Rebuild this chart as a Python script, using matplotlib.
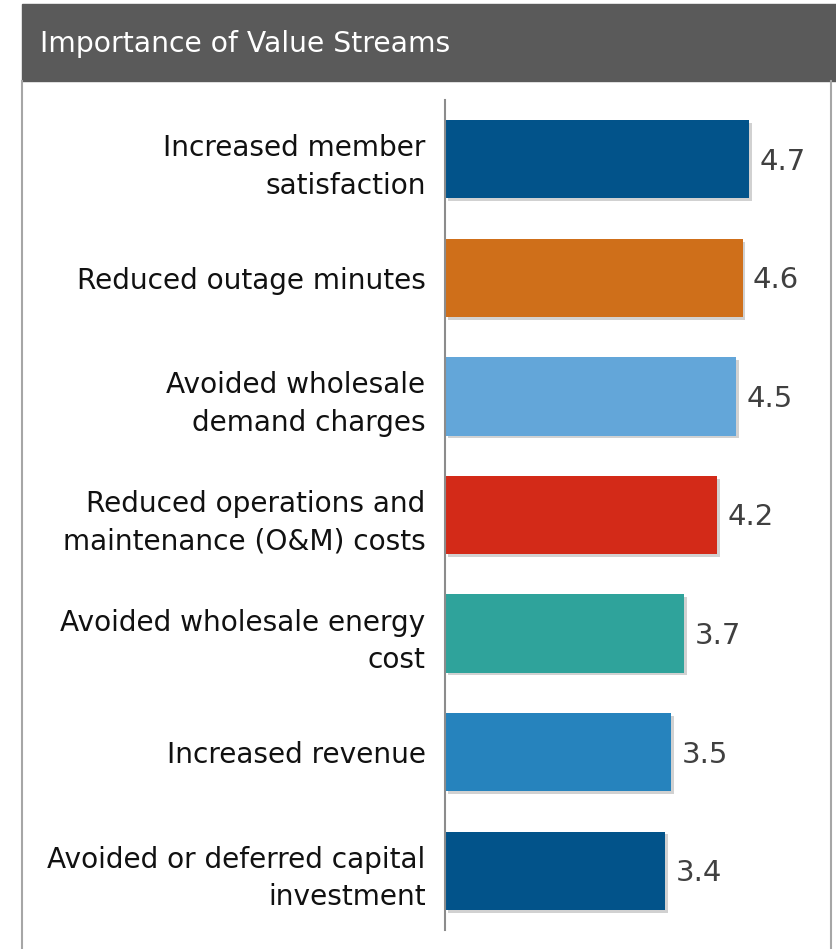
import matplotlib.pyplot as plt
import matplotlib.patheffects as pe
from matplotlib.patches import Rectangle
from matplotlib.lines import Line2D

# Survey results: average importance rating per value stream
categories = [
    "Increased member\nsatisfaction",
    "Reduced outage minutes",
    "Avoided wholesale\ndemand charges",
    "Reduced operations and\nmaintenance (O&M) costs",
    "Avoided wholesale energy\ncost",
    "Increased revenue",
    "Avoided or deferred capital\ninvestment",
]
scores = [4.7, 4.6, 4.5, 4.2, 3.7, 3.5, 3.4]
bar_colors = ["#02538A", "#CF6F1A", "#63A6D9", "#D32A18", "#2FA39B", "#2683BD", "#02538A"]
title = "Importance of Value Streams"

W, H = 836, 949
fig = plt.figure(figsize=(W / 100, H / 100), dpi=100)

# header band and panel border
fig.patches.append(Rectangle((22 / W, 1 - 81 / H), 1 - 22 / W, 77 / H,
                             transform=fig.transFigure, color="#5A5A5A", zorder=0))
fig.lines.append(Line2D([22 / W, 22 / W], [0, 1 - 81 / H], transform=fig.transFigure,
                        color="#A6A6A6", lw=1.5))
fig.lines.append(Line2D([831 / W, 831 / W], [0, 1 - 81 / H], transform=fig.transFigure,
                        color="#A6A6A6", lw=1.5))
fig.text(40 / W, 1 - 44 / H, title, color="white", fontsize=20.3, va="center", ha="left")

ax = fig.add_axes([445 / W, 1 - 930 / H, (830 - 445) / W, 830 / H])
ypos = list(range(len(categories)))
bars = ax.barh(ypos, scores, height=0.66, color=bar_colors, zorder=2)
for b in bars:
    b.set_path_effects([pe.SimplePatchShadow(offset=(2, -2), shadow_rgbFace="#000000", alpha=0.18),
                        pe.Normal()])

for y, v in zip(ypos, scores):
    ax.text(v + 0.16, y + 0.02, f"{v:.1f}", va="center", ha="left", fontsize=21, color="#404040")

ax.set_xlim(0, (830 - 445) / 64.7)
ax.set_ylim(len(categories) - 0.5, -0.5)
ax.set_yticks(ypos)
ax.set_yticklabels(categories, fontsize=20.2, color="#111111", linespacing=1.42, ha="right")
ax.tick_params(axis="y", length=0, pad=14)
ax.set_xticks([])
for side in ["top", "right", "bottom"]:
    ax.spines[side].set_visible(False)
ax.spines["left"].set_color("#8C8C8C")
ax.spines["left"].set_linewidth(1.5)

fig.savefig("out.png", dpi=100)
